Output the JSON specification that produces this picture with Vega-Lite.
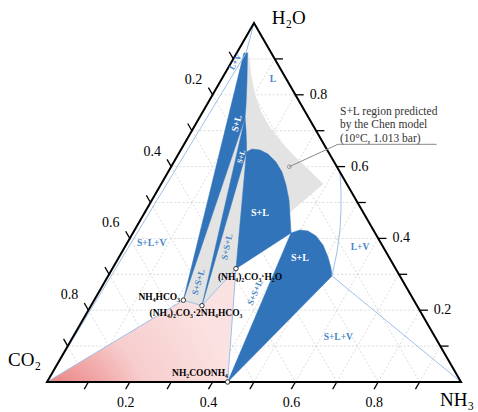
{
  "$schema": "https://vega.github.io/schema/vega-lite/v6.json",
  "width": 478,
  "height": 412,
  "autosize": {"type": "none"},
  "padding": 0,
  "background": "white",
  "config": {"view": {"stroke": null}, "text": {"font": "Liberation Serif"}},
  "datasets": {
    "grid": [
      {"x": 0.05, "y": 0.1, "x2": 0.95, "y2": 0.1}, {"x": 0.1, "y": 0.2, "x2": 0.9, "y2": 0.2}, {"x": 0.15, "y": 0.3, "x2": 0.85, "y2": 0.3},
      {"x": 0.2, "y": 0.4, "x2": 0.8, "y2": 0.4}, {"x": 0.25, "y": 0.5, "x2": 0.75, "y2": 0.5}, {"x": 0.3, "y": 0.6, "x2": 0.7, "y2": 0.6},
      {"x": 0.35, "y": 0.7, "x2": 0.65, "y2": 0.7}, {"x": 0.4, "y": 0.8, "x2": 0.6, "y2": 0.8}, {"x": 0.45, "y": 0.9, "x2": 0.55, "y2": 0.9},
      {"x": 0.45, "y": 0.9, "x2": 0.9, "y2": 0}, {"x": 0.4, "y": 0.8, "x2": 0.8, "y2": 0}, {"x": 0.35, "y": 0.7, "x2": 0.7, "y2": 0},
      {"x": 0.3, "y": 0.6, "x2": 0.6, "y2": 0}, {"x": 0.25, "y": 0.5, "x2": 0.5, "y2": 0}, {"x": 0.2, "y": 0.4, "x2": 0.4, "y2": 0},
      {"x": 0.15, "y": 0.3, "x2": 0.3, "y2": 0}, {"x": 0.1, "y": 0.2, "x2": 0.2, "y2": 0}, {"x": 0.05, "y": 0.1, "x2": 0.1, "y2": 0},
      {"x": 0.1, "y": 0, "x2": 0.55, "y2": 0.9}, {"x": 0.2, "y": 0, "x2": 0.6, "y2": 0.8}, {"x": 0.3, "y": 0, "x2": 0.65, "y2": 0.7},
      {"x": 0.4, "y": 0, "x2": 0.7, "y2": 0.6}, {"x": 0.5, "y": 0, "x2": 0.75, "y2": 0.5}, {"x": 0.6, "y": 0, "x2": 0.8, "y2": 0.4},
      {"x": 0.7, "y": 0, "x2": 0.85, "y2": 0.3}, {"x": 0.8, "y": 0, "x2": 0.9, "y2": 0.2}, {"x": 0.9, "y": 0, "x2": 0.95, "y2": 0.1}
    ],
    "polys": [
      {"poly": "gray", "i": 0, "x": 0.32937, "y": 0.22788},
      {"poly": "gray", "i": 1, "x": 0.4758, "y": 0.9164},
      {"poly": "gray", "i": 2, "x": 0.4855, "y": 0.9192},
      {"poly": "gray", "i": 3, "x": 0.4879, "y": 0.9025},
      {"poly": "gray", "i": 4, "x": 0.4928, "y": 0.8552},
      {"poly": "gray", "i": 5, "x": 0.5024, "y": 0.7994},
      {"poly": "gray", "i": 6, "x": 0.5169, "y": 0.7521},
      {"poly": "gray", "i": 7, "x": 0.5386, "y": 0.7075},
      {"poly": "gray", "i": 8, "x": 0.5676, "y": 0.6657},
      {"poly": "gray", "i": 9, "x": 0.599, "y": 0.6267},
      {"poly": "gray", "i": 10, "x": 0.6353, "y": 0.5877},
      {"poly": "gray", "i": 11, "x": 0.6667, "y": 0.5515},
      {"poly": "gray", "i": 12, "x": 0.5845, "y": 0.4708},
      {"poly": "gray", "i": 13, "x": 0.45641, "y": 0.31577},
      {"poly": "gray", "i": 14, "x": 0.3743, "y": 0.21261},
      {"poly": "pink", "i": 0, "x": 0, "y": 0},
      {"poly": "pink", "i": 1, "x": 0.32937, "y": 0.22788},
      {"poly": "pink", "i": 2, "x": 0.3743, "y": 0.21261},
      {"poly": "pink", "i": 3, "x": 0.45641, "y": 0.31577},
      {"poly": "pink", "i": 4, "x": 0.43629, "y": 0},
      {"poly": "b1", "i": 0, "x": 0.32937, "y": 0.22788},
      {"poly": "b1", "i": 1, "x": 0.4758, "y": 0.9164},
      {"poly": "b1", "i": 2, "x": 0.4843, "y": 0.9164},
      {"poly": "b1", "i": 3, "x": 0.4831, "y": 0.8412},
      {"poly": "b1", "i": 4, "x": 0.4807, "y": 0.7716},
      {"poly": "b1", "i": 5, "x": 0.4783, "y": 0.7354},
      {"poly": "b2", "i": 0, "x": 0.3743, "y": 0.21261},
      {"poly": "b2", "i": 1, "x": 0.4783, "y": 0.7354},
      {"poly": "b2", "i": 2, "x": 0.4807, "y": 0.7019},
      {"poly": "b2", "i": 3, "x": 0.4819, "y": 0.6602},
      {"poly": "b2", "i": 4, "x": 0.4819, "y": 0.6407},
      {"poly": "b3", "i": 0, "x": 0.45641, "y": 0.31577},
      {"poly": "b3", "i": 1, "x": 0.4819, "y": 0.6407},
      {"poly": "b3", "i": 2, "x": 0.4952, "y": 0.649},
      {"poly": "b3", "i": 3, "x": 0.5145, "y": 0.6462},
      {"poly": "b3", "i": 4, "x": 0.5338, "y": 0.6351},
      {"poly": "b3", "i": 5, "x": 0.5531, "y": 0.6128},
      {"poly": "b3", "i": 6, "x": 0.5676, "y": 0.585},
      {"poly": "b3", "i": 7, "x": 0.5773, "y": 0.5487},
      {"poly": "b3", "i": 8, "x": 0.5845, "y": 0.507},
      {"poly": "b3", "i": 9, "x": 0.587, "y": 0.4624},
      {"poly": "b3", "i": 10, "x": 0.5894, "y": 0.415},
      {"poly": "b4", "i": 0, "x": 0.43629, "y": 0},
      {"poly": "b4", "i": 1, "x": 0.5894, "y": 0.415},
      {"poly": "b4", "i": 2, "x": 0.6111, "y": 0.4234},
      {"poly": "b4", "i": 3, "x": 0.6304, "y": 0.4206},
      {"poly": "b4", "i": 4, "x": 0.6498, "y": 0.4067},
      {"poly": "b4", "i": 5, "x": 0.6667, "y": 0.3816},
      {"poly": "b4", "i": 6, "x": 0.6787, "y": 0.3482},
      {"poly": "b4", "i": 7, "x": 0.686, "y": 0.3175},
      {"poly": "b4", "i": 8, "x": 0.6884, "y": 0.2953}
    ],
    "lines": [
      {"id": "l1", "i": 0, "x": 0.5, "y": 1},
      {"id": "l1", "i": 1, "x": 0.4807, "y": 0.9164},
      {"id": "l1", "i": 2, "x": 0, "y": 0},
      {"id": "l3", "i": 0, "x": 0, "y": 0},
      {"id": "l3", "i": 1, "x": 0.32937, "y": 0.22788},
      {"id": "l3", "i": 2, "x": 0.3743, "y": 0.21261},
      {"id": "l3", "i": 3, "x": 0.45641, "y": 0.31577},
      {"id": "l3", "i": 4, "x": 0.43629, "y": 0},
      {"id": "l4", "i": 0, "x": 0.6884, "y": 0.2953},
      {"id": "l4", "i": 1, "x": 1, "y": 0},
      {"id": "l5", "i": 0, "x": 0.7075, "y": 0.585},
      {"id": "l5", "i": 1, "x": 0.7101, "y": 0.5348},
      {"id": "l5", "i": 2, "x": 0.7101, "y": 0.4791},
      {"id": "l5", "i": 3, "x": 0.7077, "y": 0.4234},
      {"id": "l5", "i": 4, "x": 0.7005, "y": 0.3621},
      {"id": "l5", "i": 5, "x": 0.6884, "y": 0.2953}
    ],
    "tri": [
      {"i": 0, "x": 0, "y": 0}, {"i": 1, "x": 1, "y": 0}, {"i": 2, "x": 0.5, "y": 1}
    ],
    "ticks": [
      {"x": 0.45, "y": 0.9, "x2": 0.44, "y2": 0.92}, {"x": 0.4, "y": 0.8, "x2": 0.39, "y2": 0.82}, {"x": 0.35, "y": 0.7, "x2": 0.34, "y2": 0.72},
      {"x": 0.3, "y": 0.6, "x2": 0.29, "y2": 0.62}, {"x": 0.25, "y": 0.5, "x2": 0.24, "y2": 0.52}, {"x": 0.2, "y": 0.4, "x2": 0.19, "y2": 0.42},
      {"x": 0.15, "y": 0.3, "x2": 0.14, "y2": 0.32}, {"x": 0.1, "y": 0.2, "x2": 0.09, "y2": 0.22}, {"x": 0.05, "y": 0.1, "x2": 0.04, "y2": 0.12},
      {"x": 0.1, "y": 0, "x2": 0.09, "y2": -0.02}, {"x": 0.2, "y": 0, "x2": 0.19, "y2": -0.02}, {"x": 0.3, "y": 0, "x2": 0.29, "y2": -0.02},
      {"x": 0.4, "y": 0, "x2": 0.39, "y2": -0.02}, {"x": 0.5, "y": 0, "x2": 0.49, "y2": -0.02}, {"x": 0.6, "y": 0, "x2": 0.59, "y2": -0.02},
      {"x": 0.7, "y": 0, "x2": 0.69, "y2": -0.02}, {"x": 0.8, "y": 0, "x2": 0.79, "y2": -0.02}, {"x": 0.9, "y": 0, "x2": 0.89, "y2": -0.02},
      {"x": 0.95, "y": 0.1, "x2": 0.97, "y2": 0.1}, {"x": 0.9, "y": 0.2, "x2": 0.92, "y2": 0.2}, {"x": 0.85, "y": 0.3, "x2": 0.87, "y2": 0.3},
      {"x": 0.8, "y": 0.4, "x2": 0.82, "y2": 0.4}, {"x": 0.75, "y": 0.5, "x2": 0.77, "y2": 0.5}, {"x": 0.7, "y": 0.6, "x2": 0.72, "y2": 0.6},
      {"x": 0.65, "y": 0.7, "x2": 0.67, "y2": 0.7}, {"x": 0.6, "y": 0.8, "x2": 0.62, "y2": 0.8}, {"x": 0.55, "y": 0.9, "x2": 0.57, "y2": 0.9}
    ],
    "tlabels": [
      {"side": "left", "t": "0.2", "x": 0.4, "y": 0.8}, {"side": "left", "t": "0.4", "x": 0.3, "y": 0.6},
      {"side": "left", "t": "0.6", "x": 0.2, "y": 0.4}, {"side": "left", "t": "0.8", "x": 0.1, "y": 0.2},
      {"side": "bottom", "t": "0.2", "x": 0.2, "y": 0}, {"side": "bottom", "t": "0.4", "x": 0.4, "y": 0},
      {"side": "bottom", "t": "0.6", "x": 0.6, "y": 0}, {"side": "bottom", "t": "0.8", "x": 0.8, "y": 0},
      {"side": "right", "t": "0.2", "x": 0.9, "y": 0.2}, {"side": "right", "t": "0.4", "x": 0.8, "y": 0.4},
      {"side": "right", "t": "0.6", "x": 0.7, "y": 0.6}, {"side": "right", "t": "0.8", "x": 0.6, "y": 0.8}
    ],
    "leader": [
      {"i": 0, "x": 0.5853, "y": 0.5997}, {"i": 1, "x": 0.7029, "y": 0.6621}, {"i": 2, "x": 0.9413, "y": 0.6621}
    ],
    "compounds": [
      {"t": "NH₄HCO₃", "x": 0.32937, "y": 0.22788},
      {"t": "(NH₄)₂CO₃·2NH₄HCO₃", "x": 0.3743, "y": 0.21261},
      {"t": "(NH₄)₂CO₃·H₂O", "x": 0.45641, "y": 0.31577},
      {"t": "NH₂COONH₄", "x": 0.43629, "y": 0}
    ],
    "texts": [
      {"g": "vertex", "t": "H₂O", "x": 0.5428, "y": 1.0139},
      {"g": "vertex", "t": "CO₂", "x": -0.0942, "y": 0.0613},
      {"g": "vertex", "t": "NH₃", "x": 0.9493, "y": -0.0501},
      {"g": "note", "t": "S+L region predicted", "x": 0.7077, "y": 0.7521},
      {"g": "note", "t": "by the Chen model", "x": 0.7077, "y": 0.7145},
      {"g": "note", "t": "(10°C, 1.013 bar)", "x": 0.7077, "y": 0.6769},
      {"g": "blue", "t": "L", "x": 0.5459, "y": 0.844},
      {"g": "blue", "t": "S+L+V", "x": 0.2529, "y": 0.3863},
      {"g": "blue", "t": "L+V", "x": 0.756, "y": 0.3769},
      {"g": "blue", "t": "S+L+V", "x": 0.7036, "y": 0.1262},
      {"g": "white", "t": "S+L", "x": 0.5145, "y": 0.4699},
      {"g": "white", "t": "S+L", "x": 0.6111, "y": 0.3446},
      {"g": "w1", "t": "S+L", "x": 0.4582, "y": 0.7206},
      {"g": "w2", "t": "S+L", "x": 0.4703, "y": 0.6276},
      {"g": "lv", "t": "L+V", "x": 0.4541, "y": 0.8922},
      {"g": "ssl1", "t": "S+S+L", "x": 0.3655, "y": 0.2786},
      {"g": "ssl2", "t": "S+S+L", "x": 0.4341, "y": 0.3769},
      {"g": "ssl3", "t": "S+S+L", "x": 0.5024, "y": 0.2493},
      {"g": "cright", "t": "NH₄HCO₃", "x": 0.3213, "y": 0.2376},
      {"g": "ccenter", "t": "(NH₄)₂CO₃·2NH₄HCO₃", "x": 0.3599, "y": 0.1922},
      {"g": "ccenter", "t": "(NH₄)₂CO₃·H₂O", "x": 0.4903, "y": 0.2933},
      {"g": "ccenter", "t": "NH₂COONH₄", "x": 0.3696, "y": 0.0251}
    ]
  },
  "encoding": {
    "x": {"field": "x", "type": "quantitative", "scale": {"domain": [-0.11353, 1.04106], "nice": false, "zero": false}, "axis": null},
    "y": {"field": "y", "type": "quantitative", "scale": {"domain": [-0.08357, 1.06407], "nice": false, "zero": false}, "axis": null}
  },
  "layer": [
    {"data": {"name": "grid"}, "mark": {"type": "rule", "color": "#d2d2d2", "strokeDash": [2, 2], "strokeWidth": 0.8},
     "encoding": {"x2": {"field": "x2"}, "y2": {"field": "y2"}}},
    {"data": {"name": "polys"}, "transform": [{"filter": "datum.poly == 'gray'"}],
     "mark": {"type": "line", "interpolate": "linear-closed", "fill": "#e3e3e3", "stroke": "#e3e3e3", "strokeWidth": 0.5},
     "encoding": {"order": {"field": "i", "type": "quantitative"}}},
    {"data": {"name": "polys"}, "transform": [{"filter": "datum.poly == 'pink'"}],
     "mark": {"type": "line", "interpolate": "linear-closed", "strokeWidth": 0, "stroke": "#f6d0d0",
              "fill": {"gradient": "radial", "x1": 0, "y1": 1, "r1": 0, "x2": 0, "y2": 1, "r2": 1,
                       "stops": [{"offset": 0, "color": "#e14a4c"}, {"offset": 0.25, "color": "#ee9494"}, {"offset": 0.55, "color": "#f7cdcd"}, {"offset": 1, "color": "#fbe2e2"}]}},
     "encoding": {"order": {"field": "i", "type": "quantitative"}}},
    {"data": {"name": "polys"}, "transform": [{"filter": "datum.poly != 'gray' && datum.poly != 'pink'"}],
     "mark": {"type": "line", "interpolate": "linear-closed", "fill": "#3174ba", "stroke": "#3174ba", "strokeWidth": 0.5},
     "encoding": {"detail": {"field": "poly"}, "order": {"field": "i", "type": "quantitative"}}},
    {"data": {"name": "lines"}, "mark": {"type": "line", "color": "#9fc0e8", "strokeWidth": 1},
     "encoding": {"detail": {"field": "id"}, "order": {"field": "i", "type": "quantitative"}}},
    {"data": {"name": "tri"}, "mark": {"type": "line", "interpolate": "linear-closed", "color": "black", "strokeWidth": 2},
     "encoding": {"order": {"field": "i", "type": "quantitative"}}},
    {"data": {"name": "ticks"}, "mark": {"type": "rule", "color": "black", "strokeWidth": 1.3},
     "encoding": {"x2": {"field": "x2"}, "y2": {"field": "y2"}}},
    {"data": {"name": "tlabels"}, "transform": [{"filter": "datum.side == 'left'"}],
     "mark": {"type": "text", "fontSize": 14, "align": "center", "baseline": "middle", "dx": -19, "dy": -15, "color": "black"},
     "encoding": {"text": {"field": "t"}}},
    {"data": {"name": "tlabels"}, "transform": [{"filter": "datum.side == 'bottom'"}],
     "mark": {"type": "text", "fontSize": 14, "align": "center", "baseline": "middle", "dx": -4, "dy": 21, "color": "black"},
     "encoding": {"text": {"field": "t"}}},
    {"data": {"name": "tlabels"}, "transform": [{"filter": "datum.side == 'right'"}],
     "mark": {"type": "text", "fontSize": 14, "align": "center", "baseline": "middle", "dx": 23, "dy": 0, "color": "black"},
     "encoding": {"text": {"field": "t"}}},
    {"data": {"name": "leader"}, "mark": {"type": "line", "color": "#8a8a8a", "strokeWidth": 1},
     "encoding": {"order": {"field": "i", "type": "quantitative"}}},
    {"data": {"name": "leader"}, "transform": [{"filter": "datum.i == 0"}],
     "mark": {"type": "point", "shape": "circle", "size": 14, "filled": false, "color": "#777", "strokeWidth": 1}},
    {"data": {"name": "compounds"},
     "mark": {"type": "point", "shape": "circle", "size": 20, "filled": true, "fill": "white", "stroke": "#333", "strokeWidth": 1, "opacity": 1}},
    {"data": {"name": "texts"}, "transform": [{"filter": "datum.g == 'vertex'"}],
     "mark": {"type": "text", "fontSize": 19, "align": "left", "baseline": "middle", "color": "black"},
     "encoding": {"text": {"field": "t"}}},
    {"data": {"name": "texts"}, "transform": [{"filter": "datum.g == 'note'"}],
     "mark": {"type": "text", "fontSize": 11.5, "align": "left", "baseline": "middle", "color": "#333"},
     "encoding": {"text": {"field": "t"}}},
    {"data": {"name": "texts"}, "transform": [{"filter": "datum.g == 'blue'"}],
     "mark": {"type": "text", "fontSize": 9.5, "fontWeight": "bold", "align": "center", "baseline": "middle", "color": "#4a84c6"},
     "encoding": {"text": {"field": "t"}}},
    {"data": {"name": "texts"}, "transform": [{"filter": "datum.g == 'white'"}],
     "mark": {"type": "text", "fontSize": 10, "fontWeight": "bold", "align": "center", "baseline": "middle", "color": "white"},
     "encoding": {"text": {"field": "t"}}},
    {"data": {"name": "texts"}, "transform": [{"filter": "datum.g == 'w1'"}],
     "mark": {"type": "text", "fontSize": 9.5, "fontWeight": "bold", "align": "center", "baseline": "middle", "color": "white", "angle": 284},
     "encoding": {"text": {"field": "t"}}},
    {"data": {"name": "texts"}, "transform": [{"filter": "datum.g == 'w2'"}],
     "mark": {"type": "text", "fontSize": 7.5, "fontWeight": "bold", "align": "center", "baseline": "middle", "color": "white", "angle": 286},
     "encoding": {"text": {"field": "t"}}},
    {"data": {"name": "texts"}, "transform": [{"filter": "datum.g == 'lv'"}],
     "mark": {"type": "text", "fontSize": 8.5, "fontWeight": "bold", "align": "center", "baseline": "middle", "color": "#4a84c6", "angle": 300},
     "encoding": {"text": {"field": "t"}}},
    {"data": {"name": "texts"}, "transform": [{"filter": "datum.g == 'ssl1'"}],
     "mark": {"type": "text", "fontSize": 9, "fontWeight": "bold", "align": "center", "baseline": "middle", "color": "#4a84c6", "angle": 286},
     "encoding": {"text": {"field": "t"}}},
    {"data": {"name": "texts"}, "transform": [{"filter": "datum.g == 'ssl2'"}],
     "mark": {"type": "text", "fontSize": 9, "fontWeight": "bold", "align": "center", "baseline": "middle", "color": "#4a84c6", "angle": 282},
     "encoding": {"text": {"field": "t"}}},
    {"data": {"name": "texts"}, "transform": [{"filter": "datum.g == 'ssl3'"}],
     "mark": {"type": "text", "fontSize": 9, "fontWeight": "bold", "align": "center", "baseline": "middle", "color": "#4a84c6", "angle": 293},
     "encoding": {"text": {"field": "t"}}},
    {"data": {"name": "texts"}, "transform": [{"filter": "datum.g == 'cright'"}],
     "mark": {"type": "text", "fontSize": 9.5, "fontWeight": "bold", "align": "right", "baseline": "middle", "color": "black"},
     "encoding": {"text": {"field": "t"}}},
    {"data": {"name": "texts"}, "transform": [{"filter": "datum.g == 'ccenter'"}],
     "mark": {"type": "text", "fontSize": 9.5, "fontWeight": "bold", "align": "center", "baseline": "middle", "color": "black"},
     "encoding": {"text": {"field": "t"}}}
  ]
}
